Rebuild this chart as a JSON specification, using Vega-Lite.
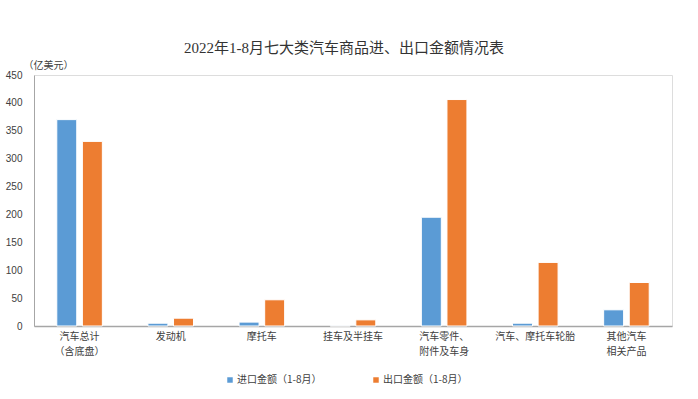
{
  "$schema": "https://vega.github.io/schema/vega-lite/v6.json",
  "width": 638,
  "height": 251,
  "autosize": {"type": "none"},
  "padding": {"left": 34, "top": 75, "right": 26, "bottom": 73},
  "background": "white",
  "title": {
    "text": "2022年1-8月七大类汽车商品进、出口金额情况表",
    "font": "Liberation Serif, Noto Sans CJK SC",
    "fontSize": 15,
    "fontWeight": "normal",
    "color": "#333333",
    "anchor": "middle",
    "dx": -9,
    "offset": 4
  },
  "data": {
    "values": [
      {"category": "汽车总计|（含底盘）", "series": "进口金额（1-8月）", "value": 370},
      {"category": "汽车总计|（含底盘）", "series": "出口金额（1-8月）", "value": 331},
      {"category": "发动机", "series": "进口金额（1-8月）", "value": 5},
      {"category": "发动机", "series": "出口金额（1-8月）", "value": 14},
      {"category": "摩托车", "series": "进口金额（1-8月）", "value": 7},
      {"category": "摩托车", "series": "出口金额（1-8月）", "value": 47},
      {"category": "挂车及半挂车", "series": "进口金额（1-8月）", "value": 0.3},
      {"category": "挂车及半挂车", "series": "出口金额（1-8月）", "value": 11},
      {"category": "汽车零件、|附件及车身", "series": "进口金额（1-8月）", "value": 195},
      {"category": "汽车零件、|附件及车身", "series": "出口金额（1-8月）", "value": 406},
      {"category": "汽车、摩托车轮胎", "series": "进口金额（1-8月）", "value": 5},
      {"category": "汽车、摩托车轮胎", "series": "出口金额（1-8月）", "value": 114},
      {"category": "其他汽车|相关产品", "series": "进口金额（1-8月）", "value": 29},
      {"category": "其他汽车|相关产品", "series": "出口金额（1-8月）", "value": 78}
    ]
  },
  "mark": {"type": "bar", "stroke": "white", "strokeWidth": 1},
  "encoding": {
    "x": {
      "field": "category",
      "type": "nominal",
      "sort": null,
      "scale": {"paddingInner": 0.5, "paddingOuter": 0.25},
      "axis": {
        "title": null,
        "labelAngle": 0,
        "labelExpr": "split(datum.value, '|')",
        "labelFont": "Noto Sans CJK SC",
        "labelFontSize": 10,
        "labelColor": "#404040",
        "labelLineHeight": 15,
        "labelPadding": 5,
        "ticks": false,
        "domainColor": "#A6A6A6",
        "domainWidth": 1.5
      }
    },
    "xOffset": {
      "field": "series",
      "type": "nominal",
      "sort": ["进口金额（1-8月）", "出口金额（1-8月）"],
      "scale": {"paddingInner": 0.22, "paddingOuter": 0}
    },
    "y": {
      "field": "value",
      "type": "quantitative",
      "scale": {"domain": [0, 450], "nice": false},
      "axis": {
        "values": [0, 50, 100, 150, 200, 250, 300, 350, 400, 450],
        "grid": false,
        "ticks": false,
        "labelPadding": 12,
        "labelFont": "Liberation Sans",
        "labelFontSize": 10,
        "labelColor": "#404040",
        "domainColor": "#A6A6A6",
        "domainWidth": 1,
        "title": "（亿美元）",
        "titleAngle": 0,
        "titleFont": "Noto Sans CJK SC",
        "titleFontSize": 10,
        "titleFontWeight": "normal",
        "titleColor": "#404040",
        "titleX": 14,
        "titleY": -10,
        "titleAlign": "center",
        "titleBaseline": "middle"
      }
    },
    "color": {
      "field": "series",
      "type": "nominal",
      "sort": ["进口金额（1-8月）", "出口金额（1-8月）"],
      "scale": {"range": ["#5B9BD5", "#ED7D31"]},
      "legend": {
        "title": null,
        "orient": "none",
        "legendX": 191,
        "legendY": 300,
        "direction": "horizontal",
        "symbolType": "square",
        "symbolSize": 30,
        "symbolStrokeWidth": 0,
        "labelFont": "Noto Sans CJK SC",
        "labelFontSize": 10,
        "labelColor": "#404040",
        "labelOffset": 2,
        "columnPadding": 49
      }
    }
  }
}
